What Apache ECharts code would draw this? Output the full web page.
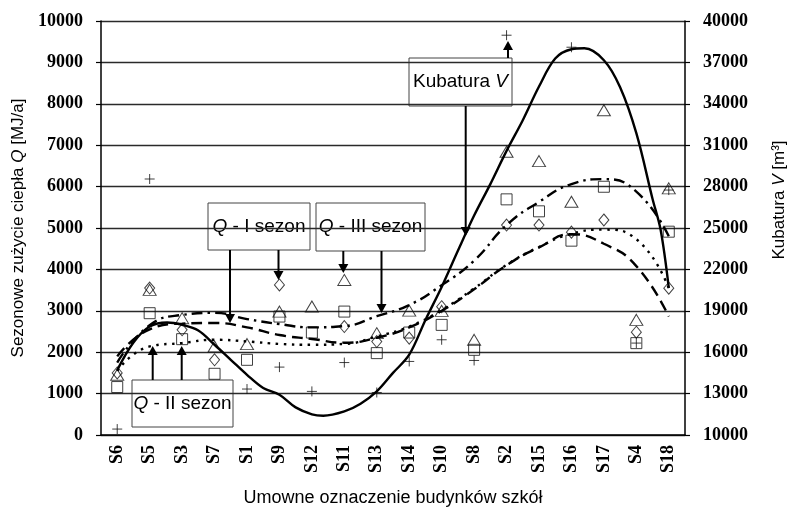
<!DOCTYPE html>
<html>
<head>
<meta charset="utf-8">
<script src="https://cdn.jsdelivr.net/npm/echarts@6/dist/echarts.min.js"></script>
<style>
  html, body { margin: 0; padding: 0; background: #fff; }
  #chart { width: 789px; height: 511px; }
</style>
</head>
<body>
<div id="chart"></div>
<script>
// budynki szkół (oś X)
const categories = ['S6', 'S5', 'S3', 'S7', 'S1', 'S9', 'S12', 'S11', 'S13', 'S14', 'S10', 'S8', 'S2', 'S15', 'S16', 'S17', 'S4', 'S18'];

// Q - I sezon (romby) [MJ/a]
const qSezon1 = [1500, 3550, 2540, 1816, null, 3625, null, 2620, 2258, 2340, 3100, null, 5072, 5072, 4900, 5193, 2484, 3545];
// Q - II sezon (kwadraty) [MJ/a]
const qSezon2 = [1158, 2942, 2315, 1478, 1816, 2861, 2475, 2981, 1978, 2475, 2660, 2057, 5692, 5403, 4694, 5996, 2219, 4911];
// Q - III sezon (trójkąty) [MJ/a]
const qSezon3 = [1455, 3505, 2822, 2137, 2195, 2981, 3102, 3746, 2460, 3005, 2998, 2298, 6840, 6616, 5635, 7846, 2781, 5957];
// Kubatura V (krzyżyki) [m3]
const kubatura = [10430, 28550, null, null, 13330, 14920, 13160, 15250, 13080, 15330, 16900, 15400, 38970, null, 38100, null, 16660, 27750];

// linie trendu Q (w punktach budynków)
const trendSezon1 = [1900, 2550, 2690, 2705, 2600, 2415, 2320, 2230, 2350, 2600, 3000, 3520, 4100, 4530, 4850, 4620, 4080, 2860];
const trendSezon2 = [1550, 2140, 2220, 2300, 2260, 2200, 2180, 2200, 2380, 2620, 3020, 3540, 4110, 4540, 4860, 4960, 4730, 3545];
const trendSezon3 = [1750, 2650, 2900, 2950, 2800, 2680, 2600, 2630, 2870, 3140, 3620, 4210, 5070, 5630, 6060, 6180, 5880, 4800];

// linia trendu kubatury odczytana gęściej (pozycja = numer budynku na osi)
const trendKubaturaPos = [0, 0.5, 1, 1.54, 2, 2.5, 3, 3.5, 4, 4.5, 5, 5.5, 6, 6.35, 7, 7.5, 8, 8.5, 9, 9.5, 10, 10.5, 11, 11.5, 12, 12.5, 13, 13.5, 14, 14.4, 15, 15.5, 16, 16.5, 16.75, 17];
const trendKubatura = [14700, 16700, 17860, 18150, 17980, 17570, 16540, 15450, 14360, 13400, 12920, 12000, 11500, 11400, 11710, 12270, 13160, 14500, 15820, 18340, 20730, 23350, 25900, 28180, 30590, 32810, 35250, 37280, 37950, 38020, 37160, 35200, 31870, 27100, 24850, 20660];

// podziałka prawej osi
const rightTicks = [10000, 13000, 16000, 19000, 22000, 25000, 28000, 31000, 34000, 37000, 40000];

const serif = '"Liberation Serif", "Times New Roman", serif';
const sans = '"Liberation Sans", Arial, sans-serif';
const plusPath = 'path://M0,5L10,5M5,0L5,10';

const chart = echarts.init(document.getElementById('chart'), null, { renderer: 'canvas' });

// strzałka: linia + grot
function arrow(x1, y1, x2, y2) {
  const dir = y2 > y1 ? 1 : -1;
  const head = 9;
  return [
    {
      type: 'line', z: 100,
      shape: { x1: x1, y1: y1, x2: x2, y2: y2 - dir * head },
      style: { stroke: '#000', lineWidth: 2 }
    },
    {
      type: 'polygon', z: 100,
      shape: { points: [[x2 - 5, y2 - dir * head], [x2 + 5, y2 - dir * head], [x2, y2]] },
      style: { fill: '#000' }
    }
  ];
}

// ramka z opisem
function box(x, y, w, h, text) {
  return {
    type: 'group', z: 100,
    children: [
      {
        type: 'rect',
        shape: { x: x, y: y, width: w, height: h },
        style: { fill: '#fff', stroke: '#444', lineWidth: 1 }
      },
      {
        type: 'text',
        x: x + w / 2, y: y + h / 2,
        style: {
          text: text,
          fontFamily: sans, fontSize: 19, fill: '#000',
          align: 'center', verticalAlign: 'middle',
          rich: { i: { fontStyle: 'italic', fontFamily: sans, fontSize: 19 } }
        }
      }
    ]
  };
}

const graphics = [].concat(
  box(208, 203, 102, 47, '{i|Q} - I sezon'),
  box(316, 203, 109, 48, '{i|Q} - III sezon'),
  box(409, 58, 103, 48, 'Kubatura {i|V}'),
  box(132, 380, 101, 47, '{i|Q} - II sezon'),
  arrow(230, 250, 230, 323),
  arrow(278.5, 250, 278.5, 280),
  arrow(343.3, 251, 343.3, 273),
  arrow(381.5, 251, 381.5, 313),
  arrow(465.7, 106, 465.7, 236),
  arrow(508, 58, 508, 41),
  arrow(152.7, 380, 152.7, 346),
  arrow(181.7, 380, 181.7, 346)
);

function markerSeries(name, data, symbol, size) {
  return {
    name: name, type: 'scatter', data: data,
    symbol: symbol, symbolSize: size, z: 3,
    itemStyle: { color: 'rgba(0,0,0,0)', borderColor: '#111', borderWidth: 1 }
  };
}

function trendSeries(name, data, dash, yIdx) {
  return {
    name: name, type: 'line', data: data, yAxisIndex: yIdx || 0,
    smooth: 0.5, showSymbol: false, z: 4,
    lineStyle: { color: '#000', width: 2.4, type: dash }
  };
}

const plainNumber = (v) => String(v);

chart.setOption({
  animation: false,
  backgroundColor: '#fff',
  grid: { left: 101, right: 104, top: 21, bottom: 76, containLabel: false, outerBoundsMode: 'none' },
  xAxis: [
    {
      type: 'category',
      data: categories,
      boundaryGap: true,
      name: 'Umowne oznaczenie budynków szkół',
      nameLocation: 'middle',
      nameGap: 54,
      nameTextStyle: { fontFamily: sans, fontSize: 18, color: '#000' },
      axisLine: { onZero: false, lineStyle: { color: '#000', width: 1.5 } },
      axisTick: { alignWithLabel: false, length: 5, lineStyle: { color: '#000', width: 1.2 } },
      axisLabel: { rotate: 90, margin: 10, interval: 0, fontFamily: serif, fontWeight: 'bold', fontSize: 18, color: '#000' },
      splitLine: { show: false }
    },
    {
      // ukryta oś liczbowa dla gęsto odczytanej linii kubatury
      type: 'value', min: -0.5, max: 17.5, show: false,
      axisLine: { onZero: false }, splitLine: { show: false }
    }
  ],
  yAxis: [
    {
      type: 'value', min: 0, max: 10000, interval: 1000,
      name: 'Sezonowe zużycie ciepła {i|Q} [MJ/a]',
      nameLocation: 'middle', nameGap: 64, nameRotate: 90,
      nameTextStyle: { fontFamily: sans, fontSize: 17, color: '#000', rich: { i: { fontStyle: 'italic', fontFamily: sans, fontSize: 17 } } },
      axisLine: { show: true, onZero: false, lineStyle: { color: '#000', width: 1.5 } },
      axisTick: { show: true, length: 5, lineStyle: { color: '#000', width: 1.2 } },
      axisLabel: { margin: 18, formatter: plainNumber, fontFamily: serif, fontWeight: 'bold', fontSize: 18, color: '#000' },
      splitLine: { show: true, lineStyle: { color: '#2a2a2a', width: 1.4 } }
    },
    {
      type: 'value', min: 10000, max: 40000,
      position: 'right',
      name: 'Kubatura {i|V} [m³]',
      nameLocation: 'middle', nameGap: 86, nameRotate: 90,
      nameTextStyle: { fontFamily: sans, fontSize: 17, color: '#000', padding: [0, 0, 0, 56], rich: { i: { fontStyle: 'italic', fontFamily: sans, fontSize: 17 } } },
      axisLine: { show: true, onZero: false, lineStyle: { color: '#000', width: 1.5 } },
      axisTick: { show: true, length: 5, customValues: rightTicks, lineStyle: { color: '#000', width: 1.2 } },
      axisLabel: { margin: 18, customValues: rightTicks, formatter: plainNumber, fontFamily: serif, fontWeight: 'bold', fontSize: 18, color: '#000' },
      splitLine: { show: false }
    }
  ],
  series: [
    markerSeries('Q - I sezon', qSezon1, 'diamond', [10, 12]),
    markerSeries('Q - II sezon', qSezon2, 'rect', 11),
    markerSeries('Q - III sezon', qSezon3, 'triangle', [13, 11]),
    Object.assign(markerSeries('Kubatura V', kubatura, plusPath, 10), { yAxisIndex: 1 }),
    trendSeries('Trend Q - I', trendSezon1, [11, 6]),
    trendSeries('Trend Q - II', trendSezon2, [2.5, 5.5]),
    trendSeries('Trend Q - III', trendSezon3, [11, 5, 2.5, 5]),
    Object.assign(
      trendSeries('Trend V', trendKubaturaPos.map((p, i) => [p, trendKubatura[i]]), 'solid', 1),
      { xAxisIndex: 1, smooth: 0.35 }
    )
  ],
  graphic: graphics
});

window.addEventListener('resize', () => chart.resize());
</script>
</body>
</html>
